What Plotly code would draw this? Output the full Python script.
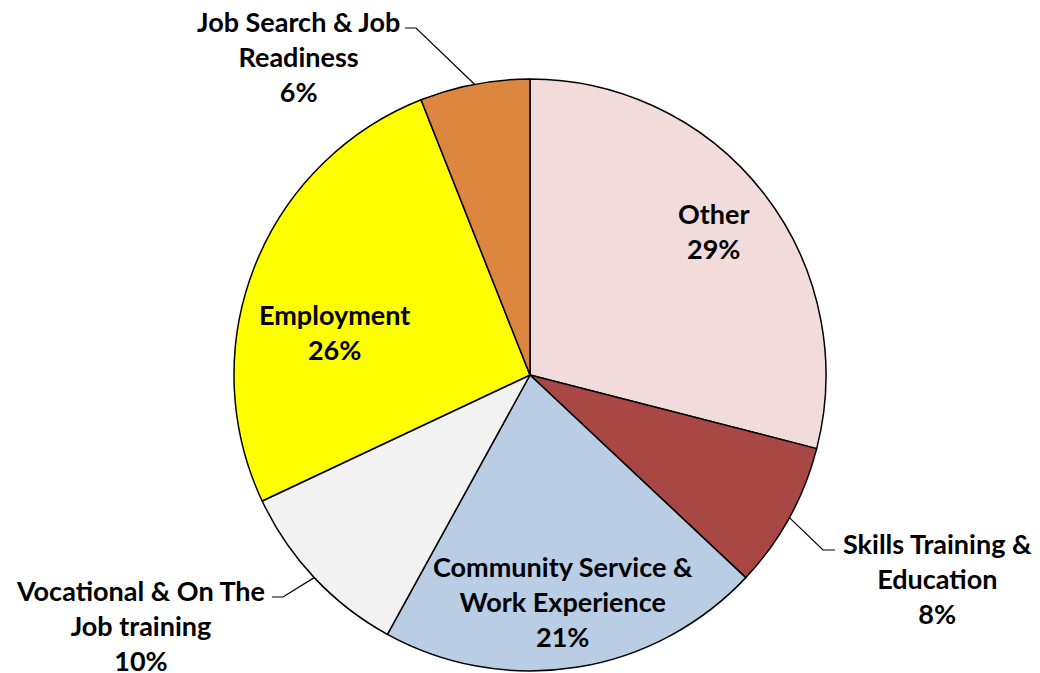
import math
import plotly.graph_objects as go

# slices, clockwise from 12 o'clock
labels = ["Other", "Skills Training &<br>Education", "Community Service &<br>Work Experience",
          "Vocational & On The<br>Job training", "Employment", "Job Search & Job<br>Readiness"]
shares = [29, 8, 21, 10, 26, 6]
colors = ["#F2DCDB", "#A94745", "#B9CDE5", "#F2F2F2", "#FFFF00", "#DC863F"]

OFF = 8  # page body margin
W, H = 1040 - OFF, 673 - OFF
CX, CY, R = 530, 375, 296  # pie centre / radius in window pixels

FONT = dict(family="Lato, 'Open Sans', sans-serif", size=27, color="#000000")

# label placement: (centre x, centre y, leader elbow, leader end) in window pixels
label_pos = {
    0: dict(xy=(714, 231)),
    1: dict(xy=(937, 578), elbow=(823, 550), end=(835, 550)),
    2: dict(xy=(563, 601)),
    3: dict(xy=(140, 625), elbow=(283, 597), end=(272, 597)),
    4: dict(xy=(334, 332)),
    5: dict(xy=(298, 56), elbow=(416, 28), end=(405, 28)),
}


def px(x, y):
    return (x - OFF) / W, 1 - (y - OFF) / H


fig = go.Figure(go.Pie(
    labels=labels, values=shares, sort=False, direction="clockwise", rotation=0,
    marker=dict(colors=colors, line=dict(color="#000000", width=1.5)),
    textinfo="none", hoverinfo="label+percent",
    domain=dict(x=[px(CX - R, 0)[0], px(CX + R, 0)[0]],
                y=[max(0, px(0, CY + R)[1]), px(0, CY - R)[1]]),
    showlegend=False,
))

total = sum(shares)
cum = 0
for i, (lab, v) in enumerate(zip(labels, shares)):
    mid = (cum + v / 2) / total * 2 * math.pi
    cum += v
    pos = label_pos[i]
    x, y = px(*pos["xy"])
    fig.add_annotation(
        x=x, y=y, xref="paper", yref="paper", showarrow=False,
        text=f"<b>{lab}<br>{round(v / total * 100)}%</b>", align="center",
        xanchor="center", yanchor="middle", font=FONT,
    )
    if "elbow" in pos:
        ex, ey = CX + R * math.sin(mid), CY - R * math.cos(mid)
        p0 = px(ex, ey)
        p1 = px(*pos["elbow"])
        p2 = px(*pos["end"])
        fig.add_shape(
            type="path", xref="paper", yref="paper",
            path=f"M {p0[0]},{p0[1]} L {p1[0]},{p1[1]} L {p2[0]},{p2[1]}",
            line=dict(color="#000000", width=1.2),
        )

fig.update_layout(
    width=W, height=H, margin=dict(l=0, r=0, t=0, b=0),
    paper_bgcolor="#FFFFFF", plot_bgcolor="#FFFFFF",
)
fig.write_html("out.html")
